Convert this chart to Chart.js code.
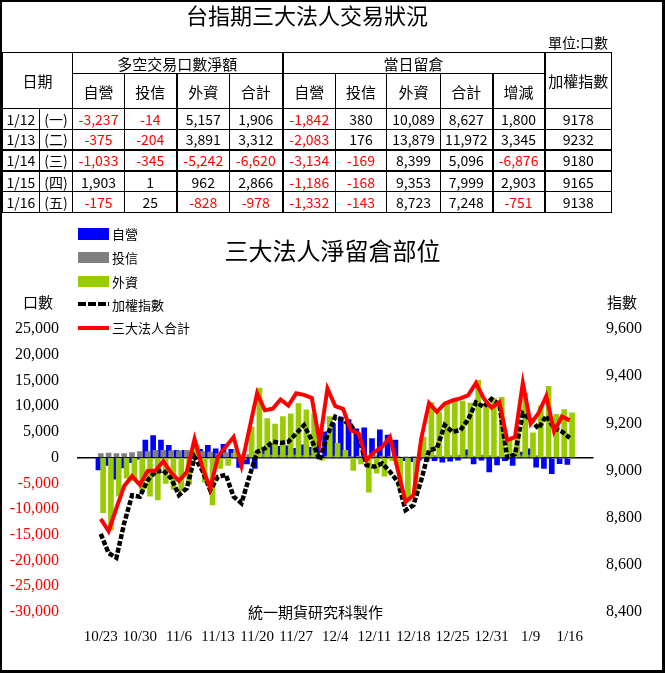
<!DOCTYPE html>
<html>
<head>
<meta charset="utf-8">
<script src="https://cdn.jsdelivr.net/npm/chart.js@4.4.0/dist/chart.umd.min.js"></script>
<style>
  body { margin: 0; background: #fff; }
  #page { position: relative; width: 665px; height: 673px; overflow: hidden; font-family: "Noto Sans CJK TC", sans-serif; color: #000; }
  #chart { position: absolute; left: 0; top: 0; }
  #frame { position: absolute; left: 0; top: 0; width: 665px; height: 673px; box-sizing: border-box; border: 2px solid #000; border-right-width: 3px; border-bottom-width: 3px; pointer-events: none; }
  .txt { position: absolute; white-space: nowrap; line-height: 1; }
  #mainTitle { left: 0; width: 614px; top: 3px; text-align: center; font-size: 22px; }
  #unit { left: 548px; top: 35px; font-size: 14px; }
  #tbl { position: absolute; left: 2px; top: 52px; border-collapse: collapse; table-layout: fixed; font-size: 14px; }
  #tbl td { border: 1px solid #000; text-align: center; padding: 0; overflow: hidden; line-height: 1; }
  #tbl .hd { font-size: 15px; }
  #tbl .neg { color: #ff0000; }
  #tbl .tk { border-left-width: 2px; }
  #tbl tr.tkrow td { border-top-width: 2px; }
  .sw { position: absolute; left: 78px; width: 31px; }
  .lg { position: absolute; left: 112px; font-size: 13px; line-height: 1; }
</style>
</head>
<body>
<div id="page">
  <canvas id="chart" width="665" height="673"></canvas>
  <div id="mainTitle" class="txt">台指期三大法人交易狀況</div>
  <div id="unit" class="txt">單位:口數</div>
  <table id="tbl"></table>

  <div class="sw" style="top:228px;height:12px;background:#0000ff"></div>
  <div class="lg" style="top:227px">自營</div>
  <div class="sw" style="top:252px;height:11px;background:#808080"></div>
  <div class="lg" style="top:251px">投信</div>
  <div class="sw" style="top:276px;height:11px;background:#99cc00"></div>
  <div class="lg" style="top:275px">外資</div>
  <div class="sw" style="top:302px;height:4px;background:repeating-linear-gradient(to right,#000 0 8px,transparent 8px 10px)"></div>
  <div class="lg" style="top:298px">加權指數</div>
  <div class="sw" style="top:326px;height:4px;background:#ff0000"></div>
  <div class="lg" style="top:321px">三大法人合計</div>

  <div class="txt" style="left:23px;top:294px;font-size:15px">口數</div>
  <div class="txt" style="left:607px;top:294px;font-size:15px">指數</div>
  <div class="txt" style="left:248px;top:604px;font-size:15px">統一期貨研究科製作</div>
  <div id="frame"></div>
</div>

<script>
// table (last five sessions)
const rowDates = ['1/12', '1/13', '1/14', '1/15', '1/16'];
const rowDays = ['(一)', '(二)', '(三)', '(四)', '(五)'];
const netSelf = [-3237, -375, -1033, 1903, -175];
const netTrust = [-14, -204, -345, 1, 25];
const netForeign = [5157, 3891, -5242, 962, -828];
const netTotal = [1906, 3312, -6620, 2866, -978];
const oiSelf = [-1842, -2083, -3134, -1186, -1332];
const oiTrust = [380, 176, -169, -168, -143];
const oiForeign = [10089, 13879, 8399, 9353, 8723];
const oiTotal = [8627, 11972, 5096, 7999, 7248];
const oiChange = [1800, 3345, -6876, 2903, -751];
const twii = [9178, 9232, 9180, 9165, 9138];

// chart: trading days 10/23 .. 1/16
const dates = [
  '10/23', '10/24', '10/27', '10/28', '10/29', '10/30', '10/31',
  '11/3', '11/4', '11/5', '11/6', '11/7', '11/10', '11/11', '11/12', '11/13', '11/14',
  '11/17', '11/18', '11/19', '11/20', '11/21', '11/24', '11/25', '11/26', '11/27', '11/28',
  '12/1', '12/2', '12/3', '12/4', '12/5', '12/8', '12/9', '12/10', '12/11', '12/12',
  '12/15', '12/16', '12/17', '12/18', '12/19', '12/22', '12/23', '12/24', '12/25', '12/26',
  '12/27', '12/29', '12/30', '12/31',
  '1/5', '1/6', '1/7', '1/8', '1/9', '1/12', '1/13', '1/14', '1/15', '1/16'
];
const selfOI = [
  -2400, -1500, -4200, -2000, -1000, -300, 3400, 4300, 3400, 2400,
  1400, 1400, 1100, 1600, 2400, 1700, 2600, 1600, -1900, -1200,
  -2100, 1200, 2200, 2200, 2300, 1800, 2500, 2000, 3200, 5000,
  6600, 7900, 7400, 5600, 5800, 3700, 5400, 4400, 3400, -600,
  -800, -500, -700, -600, -900, -700, -500, 1500, -1200, -500,
  -2800, -1400, -600, -1500, 1100, 1700, -1842, -2083, -3134, -1186, -1332
];
const trustOI = [
  800, 900, 800, 800, 1000, 1200, 1200, 1400, 1400, 1300,
  1300, 1400, 1200, 1200, 1100, 800, 1000, 900, 600, 600,
  700, 700, 500, 500, 400, 500, 400, 400, 300, 300,
  300, 200, 200, 300, 300, 400, 300, 200, 200, 100,
  200, 200, 300, 400, 300, 400, 500, 400, 300, 500,
  400, 300, 200, 300, 400, 500, 380, 176, -169, -168, -143
];
const foreignOI = [
  -10700, -14000, -7500, -4000, -4500, -6500, -7500, -8200, -5000, -6200,
  -6500, -5200, 2500, -4700, -9200, -2100, -1500, 1500, -300, 6000,
  13500, 7600, 6500, 8000, 8500, 10500, 9300, 8500, -500, 8000,
  2800, 1400, -2500, -1200, -6700, -3000, -3600, -600, -6000, -8300,
  -7000, 4000, 10700, 8800, 10900, 11300, 11000, 10600, 15000, 10500,
  11500, 11700, 3600, 5000, 12500, 4800, 10089, 13879, 8399, 9353, 8723
];
const totalOI = [
  -11900, -14300, -9800, -5500, -3600, -5300, -2600, -2500, -700, -2900,
  -4500, -2800, 3600, -1900, -6000, 200, 2100, 4000, -1600, 5500,
  12500, 9200, 9500, 11300, 10100, 12500, 12200, 11600, 3000, 13400,
  10000, 9500, 5300, 4700, -500, 1100, 2100, 4000, -2400, -8600,
  -7300, 3700, 10600, 8900, 10500, 11100, 11500, 12100, 14500, 11500,
  9700, 10800, 3400, 4000, 14500, 6600, 8627, 11972, 5096, 7999, 7248
];
const indexClose = [
  8731, 8650, 8630, 8777, 8895, 8889, 8959, 8995, 9000, 8967,
  8896, 8924, 9056, 9000, 8917, 8973, 8982, 8889, 8861, 8973,
  9079, 9094, 9122, 9117, 9122, 9157, 9192, 9129, 9044, 9150,
  9228, 9214, 9192, 9143, 9023, 9016, 9030, 8995, 8952, 8832,
  8853, 8959, 9086, 9094, 9192, 9164, 9171, 9216, 9289, 9270,
  9303, 9280, 9054, 9069, 9242, 9216, 9178, 9232, 9180, 9165, 9138
];

function fmt(v) { return v.toLocaleString('en-US'); }

// build the table
const tbl = document.getElementById('tbl');
const colW = [37, 33, 52, 52, 53, 53, 53, 51, 54, 52, 52, 67];
let html = '<colgroup>' + colW.map(w => '<col style="width:' + w + 'px">').join('') + '</colgroup>';
html += '<tr style="height:21px">' +
  '<td class="hd" colspan="2" rowspan="2">日期</td>' +
  '<td class="hd" colspan="4">多空交易口數淨額</td>' +
  '<td class="hd tk" colspan="5">當日留倉</td>' +
  '<td class="hd tk" rowspan="2">加權指數</td></tr>';
html += '<tr style="height:35px">' +
  ['自營', '投信', '外資', '合計', '自營', '投信', '外資', '合計', '增減'].map((t, k) =>
    '<td class="hd' + ([2, 4, 8].includes(k) ? ' tk' : '') + '">' + t + '</td>').join('') + '</tr>';
rowDates.forEach((d, r) => {
  const vals = [netSelf[r], netTrust[r], netForeign[r], netTotal[r], oiSelf[r], oiTrust[r], oiForeign[r], oiTotal[r], oiChange[r]];
  html += '<tr style="height:20.8px"' + (r === 2 || r === 3 ? ' class="tkrow"' : '') + '>' +
    '<td>' + d + '</td><td>' + rowDays[r] + '</td>' +
    vals.map((v, k) => '<td class="' + (v < 0 ? 'neg' : '') + ([2, 4, 8].includes(k) ? ' tk' : '') + '">' + fmt(v) + '</td>').join('') +
    '<td class="tk">' + twii[r] + '</td></tr>';
});
tbl.innerHTML = html;

// chart
const X_OFF = 0.3;
const serif = { family: '"Liberation Serif", "Times New Roman", serif', size: 16 };

new Chart(document.getElementById('chart'), {
  type: 'bar',
  data: {
    datasets: [
      {
        type: 'line', label: '三大法人合計', yAxisID: 'y',
        data: totalOI.map((v, i) => ({ x: i, y: v })),
        borderColor: '#ff0000', borderWidth: 4, pointRadius: 0, order: 0
      },
      {
        type: 'line', label: '加權指數', yAxisID: 'y1',
        data: indexClose.map((v, i) => ({ x: i, y: v })),
        borderColor: '#000000', borderWidth: 4.5, borderDash: [5, 2], pointRadius: 0, order: 1
      },
      {
        label: '外資', yAxisID: 'y',
        data: foreignOI.map((v, i) => ({ x: i + X_OFF, y: v })),
        backgroundColor: '#99cc00', order: 2
      },
      {
        label: '投信', yAxisID: 'y',
        data: trustOI.map((v, i) => ({ x: i, y: v })),
        backgroundColor: '#808080', order: 3
      },
      {
        label: '自營', yAxisID: 'y',
        data: selfOI.map((v, i) => ({ x: i - X_OFF, y: v })),
        backgroundColor: '#0000ff', order: 4
      }
    ]
  },
  options: {
    responsive: false,
    animation: false,
    datasets: { bar: { barThickness: 5, grouped: false } },
    layout: { padding: { top: 0, bottom: 25, left: 0, right: 0 } },
    plugins: {
      legend: { display: false },
      tooltip: { enabled: false },
      title: {
        display: true,
        text: '三大法人淨留倉部位',
        color: '#000',
        font: { family: '"Noto Sans CJK TC", sans-serif', size: 24, weight: 'normal' },
        padding: { top: 236.6, bottom: 63.6 }
      }
    },
    scales: {
      x: {
        type: 'linear', min: -0.5, max: 60.5,
        grid: { display: false, drawTicks: false },
        border: { display: false },
        afterBuildTicks: s => {
          s.ticks = dates.map((d, i) => i).filter(i => i % 5 === 0).map(i => ({ value: i }));
        },
        afterFit: s => { s.height = 36; },
        ticks: {
          callback: v => dates[v],
          autoSkip: false, maxRotation: 0, padding: 16,
          color: '#000', font: { family: serif.family, size: 15 }
        }
      },
      y: {
        position: 'left', min: -30000, max: 25000,
        border: { display: false },
        grid: {
          drawTicks: false,
          color: c => c.tick.value === 0 ? '#000' : 'rgba(0,0,0,0)',
          lineWidth: 1.5
        },
        afterFit: s => { s.width = 77; },
        ticks: {
          stepSize: 5000, padding: 18,
          callback: v => fmt(v),
          color: c => c.tick.value < 0 ? '#ff0000' : '#000',
          font: serif
        }
      },
      y1: {
        position: 'right', min: 8400, max: 9600,
        border: { display: false },
        grid: { display: false, drawTicks: false },
        afterFit: s => { s.width = 71.5; },
        ticks: {
          stepSize: 200, padding: 12.5,
          callback: v => fmt(v),
          color: '#000', font: serif
        }
      }
    }
  }
});
</script>
</body>
</html>
